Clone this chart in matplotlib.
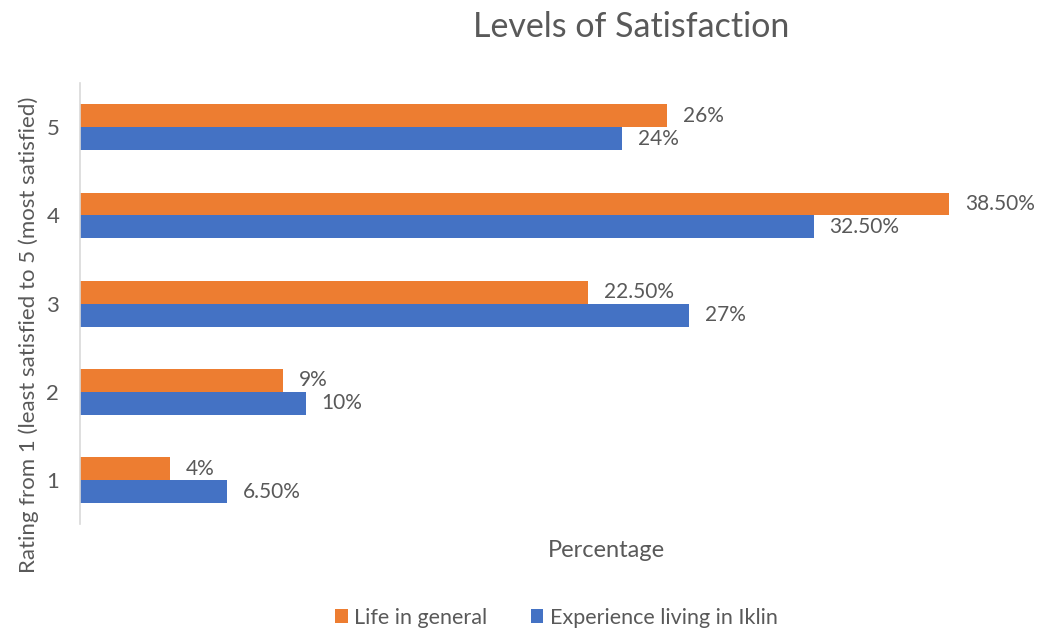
import numpy as np
import matplotlib.pyplot as plt

plt.rcParams['font.family'] = ['Lato', 'DejaVu Sans']

# Survey results, percent of respondents per rating
ratings = ['1', '2', '3', '4', '5']
life_general = [4, 9, 22.5, 38.5, 26]
living_iklin = [6.5, 10, 27, 32.5, 24]
life_labels = ['4%', '9%', '22.50%', '38.50%', '26%']
iklin_labels = ['6.50%', '10%', '27%', '32.50%', '24%']

ORANGE = '#ED7D31'
BLUE = '#4472C4'
TEXT = '#595959'

fig = plt.figure(figsize=(10.4, 6.3), dpi=100)
ax = fig.add_axes([0.077, 0.168, 0.868, 0.70])

y = np.arange(1, len(ratings) + 1)
h = 0.26
bars_life = ax.barh(y + h / 2, life_general, height=h, color=ORANGE,
                    label='Life in general')
bars_iklin = ax.barh(y - h / 2, living_iklin, height=h, color=BLUE,
                     label='Experience living in Iklin')

for bars, labels in [(bars_life, life_labels), (bars_iklin, iklin_labels)]:
    for b, lab in zip(bars, labels):
        ax.text(b.get_width() + 0.7, b.get_y() + b.get_height() / 2, lab,
                va='center', ha='left', fontsize=15, color=TEXT, clip_on=False)

ax.set_xlim(0, 40)
ax.set_ylim(0.5, 5.5)
ax.set_yticks(y)
ax.set_yticklabels(ratings, fontsize=16, color=TEXT)
ax.set_xticks([])
ax.tick_params(axis='y', length=0, pad=15)

for side in ['top', 'right', 'bottom']:
    ax.spines[side].set_visible(False)
ax.spines['left'].set_color('#D9D9D9')
ax.spines['left'].set_linewidth(1.2)

ax.set_xlabel('Percentage', fontsize=17, color=TEXT)
ax.set_ylabel('Rating from 1 (least satisfied to 5 (most satisfied)',
              fontsize=16, color=TEXT)
ax.xaxis.set_label_coords(0.583, -0.036)
ax.yaxis.set_label_coords(-0.046, 0.43)

fig.suptitle('Levels of Satisfaction', fontsize=24.5, color=TEXT,
             x=0.607, y=0.982)

leg = fig.legend(loc='lower center', bbox_to_anchor=(0.535, -0.027), ncol=2,
                 frameon=False, fontsize=15.5, handlelength=0.6, handleheight=0.6,
                 handletextpad=0.3, columnspacing=2.0)
for t in leg.get_texts():
    t.set_color(TEXT)

fig.savefig('out.png', dpi=100)
